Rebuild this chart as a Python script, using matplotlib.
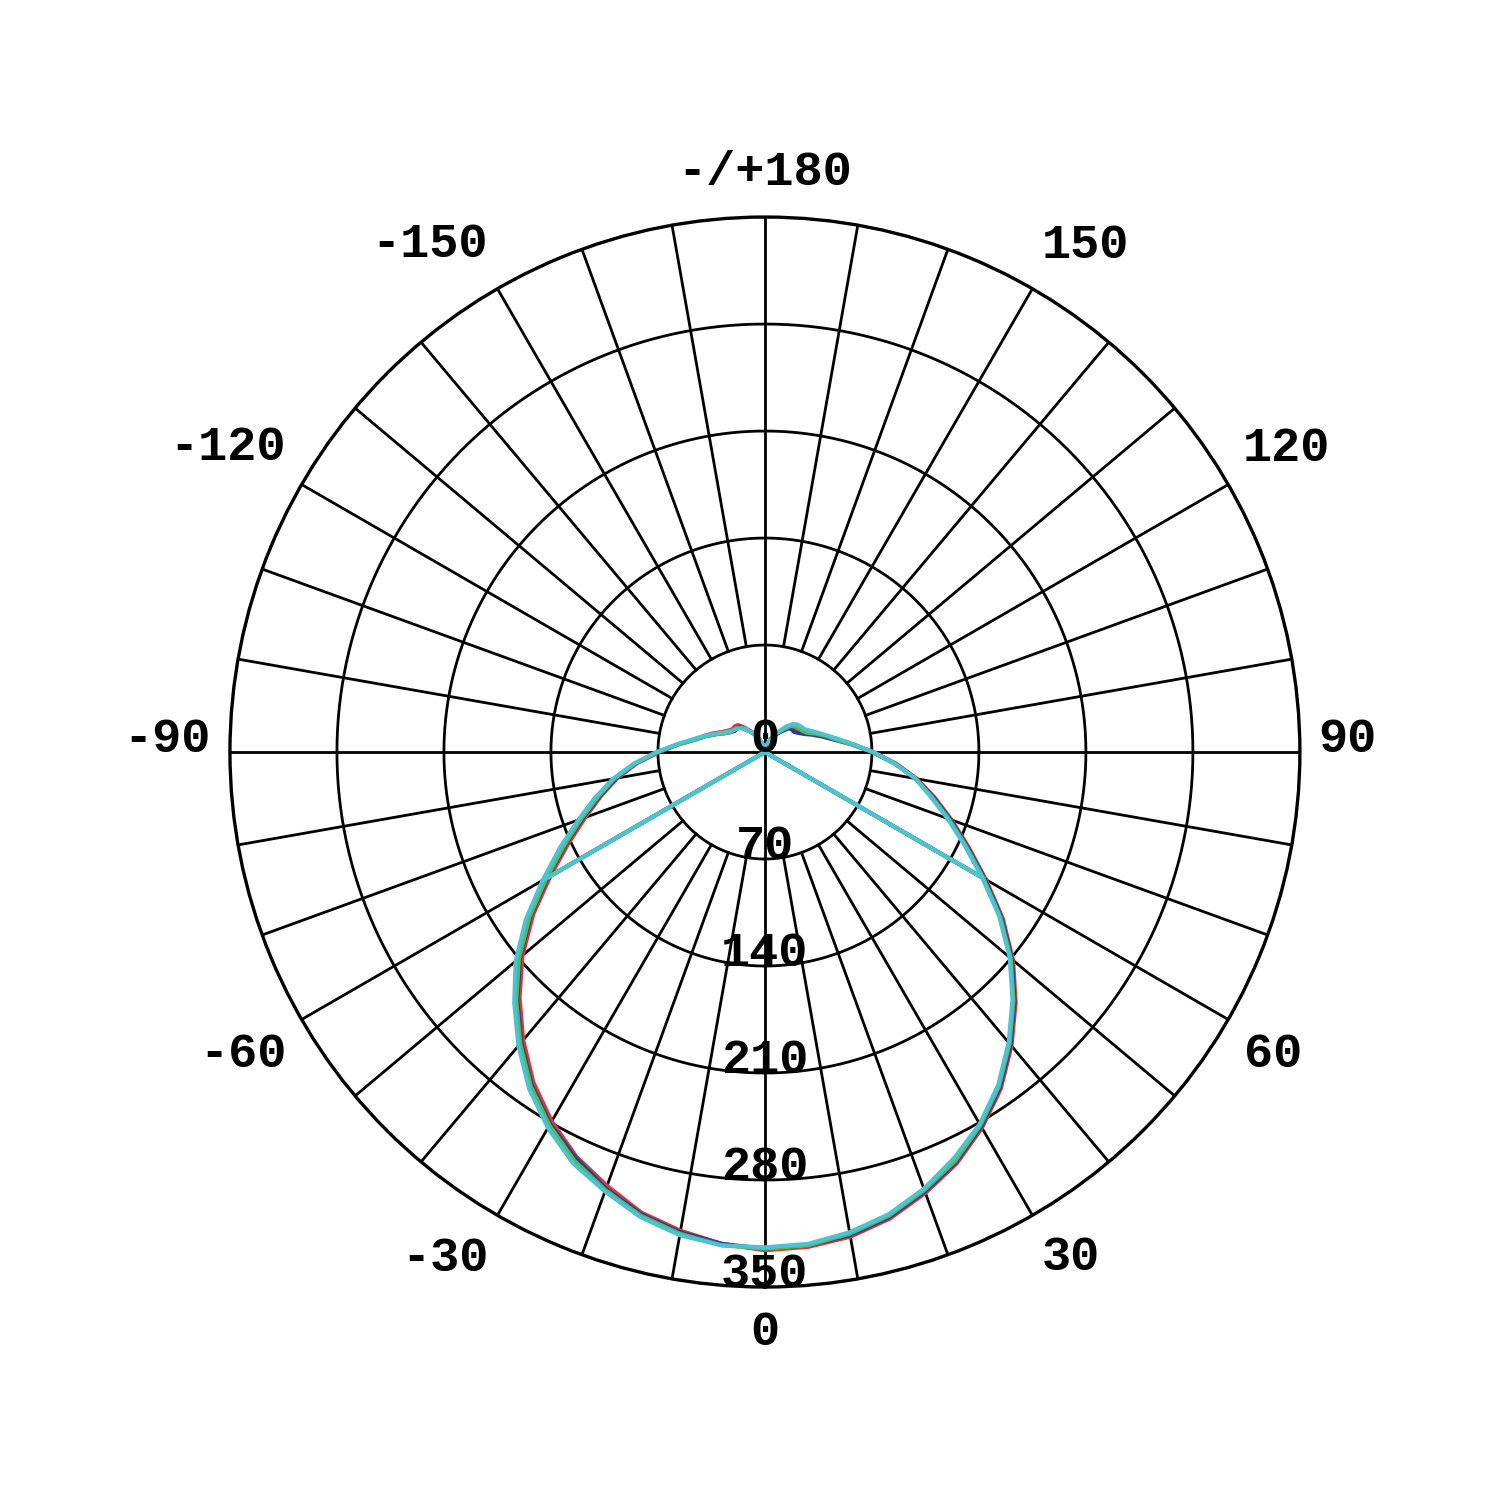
import numpy as np
import matplotlib.pyplot as plt

# gamma angles for one half of the plane (deg)
gamma = list(range(0, 181, 5))

# luminous intensity (cd) - positive side (right) and negative side (left)
red_pos   = [326, 325, 322, 316, 307, 297, 284, 269, 251, 232, 212, 190, 167, 147, 130, 115, 101, 86, 71,
             58, 48, 41, 35, 30, 27, 25, 25, 23, 20, 16, 13, 10, 7, 5, 3, 1, 0]
red_neg   = [326, 323, 318, 312, 302, 292, 279, 264, 246, 227, 207, 185, 162, 142, 125, 111, 98, 84, 69,
             57, 47, 41, 36, 31, 28, 26, 26, 25, 21, 17, 14, 10, 7, 5, 3, 1, 0]
blue_pos  = [325, 324, 321, 315, 306, 296, 283, 268, 250, 231, 211, 189, 166, 146, 129, 114, 100, 85, 70,
             57, 46, 39, 33, 28, 25, 23, 23, 22, 18, 15, 12, 9, 6, 4, 2, 1, 0]
blue_neg  = [325, 323, 319, 313, 304, 293, 281, 266, 248, 229, 209, 187, 164, 144, 127, 112, 99, 85, 70,
             57, 47, 40, 34, 29, 26, 24, 24, 23, 19, 16, 13, 10, 7, 5, 3, 1, 0]
green_pos = [325, 324, 320, 314, 305, 295, 282, 267, 249, 230, 210, 188, 165, 145, 128, 113, 100, 85, 70,
             57, 47, 41, 35, 30, 28, 27, 26, 24, 20, 16, 13, 10, 7, 5, 3, 1, 0]
green_neg = [325, 324, 320, 314, 305, 295, 282, 267, 249, 230, 210, 188, 165, 145, 128, 113, 100, 85, 70,
             57, 46, 40, 34, 29, 26, 25, 24, 22, 19, 16, 13, 10, 7, 5, 3, 1, 0]
cyan_pos  = [324, 323, 319, 313, 304, 293, 281, 266, 248, 229, 209, 187, 164, 144, 127, 112, 100, 85, 71,
             58, 49, 42, 37, 33, 30, 29, 28, 26, 22, 17, 14, 10, 7, 5, 3, 1, 0]
cyan_neg  = [324, 324, 321, 315, 306, 297, 284, 269, 251, 232, 213, 191, 168, 148, 130, 115, 101, 86, 71,
             58, 48, 41, 35, 30, 27, 25, 24, 22, 20, 16, 13, 10, 7, 5, 3, 1, 0]

# gamma where the cut-off plane drops straight to zero
cut_gamma = 60

ring_values = [70, 140, 210, 280, 350]
spoke_step = 10
angle_labels = ['0', '30', '60', '90', '120', '150', '-/+180',
                '-150', '-120', '-90', '-60', '-30']
# label placement (deg, radius in data units)
label_theta = [0, 31.2, 59.2, 91.2, 120.2, 147.7, 180, -146.5, -119.5, -91.2, -59.9, -32.3]
label_r = [380, 387, 387, 381, 395, 392, 379, 398, 404, 391, 395, 392]

series = [
    ('#e0343c', red_pos, red_neg),
    ('#2c3c9c', blue_pos, blue_neg),
    ('#5cb84a', green_pos, green_neg),
    ('#48c4d4', cyan_pos, cyan_neg),
]

fig = plt.figure(figsize=(15, 15), dpi=100)
ax = fig.add_axes([0.1533, 0.1420, 0.7133, 0.7133], projection='polar')
ax.set_theta_zero_location('S')
ax.set_theta_direction(1)
ax.set_ylim(0, ring_values[-1])
ax.set_xticks([])
ax.set_yticks([])
ax.grid(False)
ax.spines['polar'].set_linewidth(2.4)

grid_lw = 2.0
circ = np.linspace(0, 2 * np.pi, 721)
for r in ring_values[:-1]:
    ax.plot(circ, np.full_like(circ, r), color='black', lw=grid_lw, zorder=1)

for a in range(0, 360, spoke_step):
    r0 = 0 if a % 90 == 0 else ring_values[0]
    ax.plot([np.radians(a)] * 2, [r0, ring_values[-1]], color='black', lw=grid_lw, zorder=1)

ci = gamma.index(cut_gamma)
for color, pos, neg in series:
    th = [-g for g in reversed(gamma)] + gamma[1:]
    val = list(reversed(neg)) + pos[1:]
    ax.plot(np.radians(th), val, color=color, lw=2.9, zorder=3)
    ax.plot([np.radians(-cut_gamma)] * 2, [neg[ci], 0], color=color, lw=2.9, zorder=3)
    ax.plot([np.radians(cut_gamma)] * 2, [pos[ci], 0], color=color, lw=2.9, zorder=3)

font = dict(family='Liberation Mono', weight='bold', size=35)

ax.text(0, 0, '0', ha='center', va='baseline', zorder=4, **font)
for r in ring_values:
    ax.text(0, r, str(r), ha='center', va='baseline', zorder=4, **font)

for a, rr, lab in zip(label_theta, label_r, angle_labels):
    ax.text(np.radians(a), rr, lab, ha='center', va='center', **font)

fig.savefig('out.png', dpi=100, facecolor='white')
